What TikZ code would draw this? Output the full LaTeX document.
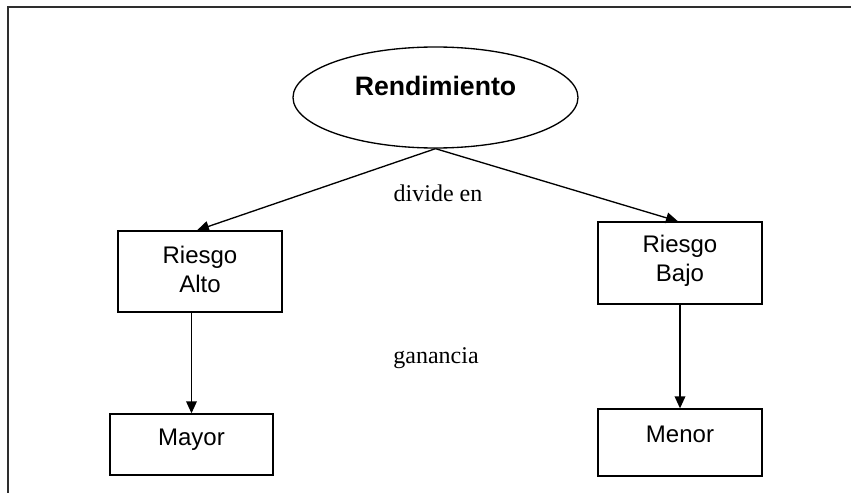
\documentclass[tikz,border=0pt]{standalone}
\usepackage{fontspec}
\setmainfont{Liberation Serif}
\setsansfont{Liberation Sans}
\usetikzlibrary{shapes.geometric,arrows.meta}
\begin{document}
\begin{tikzpicture}[x=0.75pt,y=-0.75pt,
  framel/.style={draw=black!82, line width=1.5pt},
  boxn/.style={draw=black, line width=1pt, rectangle, inner sep=0pt, minimum width=123pt},
  sans/.style={font=\sffamily\fontsize{18}{21.6}\selectfont, align=center, inner sep=0pt},
  serif/.style={font=\rmfamily\fontsize{18}{21.6}\selectfont, inner sep=0pt},
  conn/.style={draw=black, line width=1pt, -{Triangle[length=9pt,width=8pt]}}]
\useasboundingbox (0,0) rectangle (851,493);
\fill[white] (0,0) rectangle (851,493);
% frame
\coordinate (fa) at (8,493);
\coordinate (fb) at (8,7);
\coordinate (fc) at (851,7);
\draw[framel] (fa) -- (fb) -- (fc);
% ellipse
\node[draw=black, line width=1pt, ellipse, minimum width=213.75pt, minimum height=75.75pt, inner sep=0pt] (rend) at (435.5,97.5) {};
\node[sans, font=\sffamily\bfseries\fontsize{20}{24}\selectfont] (rendt) at (435.5,86) {Rendimiento};
% boxes
\node[boxn, minimum height=60.75pt] (ra) at (200,271.5) {};
\node[sans] (rat) at (200,269.5) {Riesgo\\Alto};
\node[boxn, minimum height=61.5pt] (rb) at (680,263) {};
\node[sans] (rbt) at (680,261) {Riesgo\\Bajo};
\node[boxn, minimum width=122.25pt, minimum height=45.75pt] (may) at (191.5,444.5) {};
\node[sans] (mayt) at (191.5,440) {Mayor};
\node[boxn, minimum width=123pt, minimum height=50.25pt] (men) at (680,442.5) {};
\node[sans] (ment) at (680,434) {Menor};
% labels
\node[serif] (div) at (438,193) {divide en};
\node[serif] (gan) at (436,358) {ganancia};
% connectors
\draw[conn] (rend.south) -- ([xshift=-2.25pt]ra.north);
\draw[conn] (rend.south) -- ([xshift=-1.5pt]rb.north);
\draw[conn] (ra.south -| may.north) -- (may.north);
\draw[conn] (rb.south) -- (men.north);
\end{tikzpicture}
\end{document}
